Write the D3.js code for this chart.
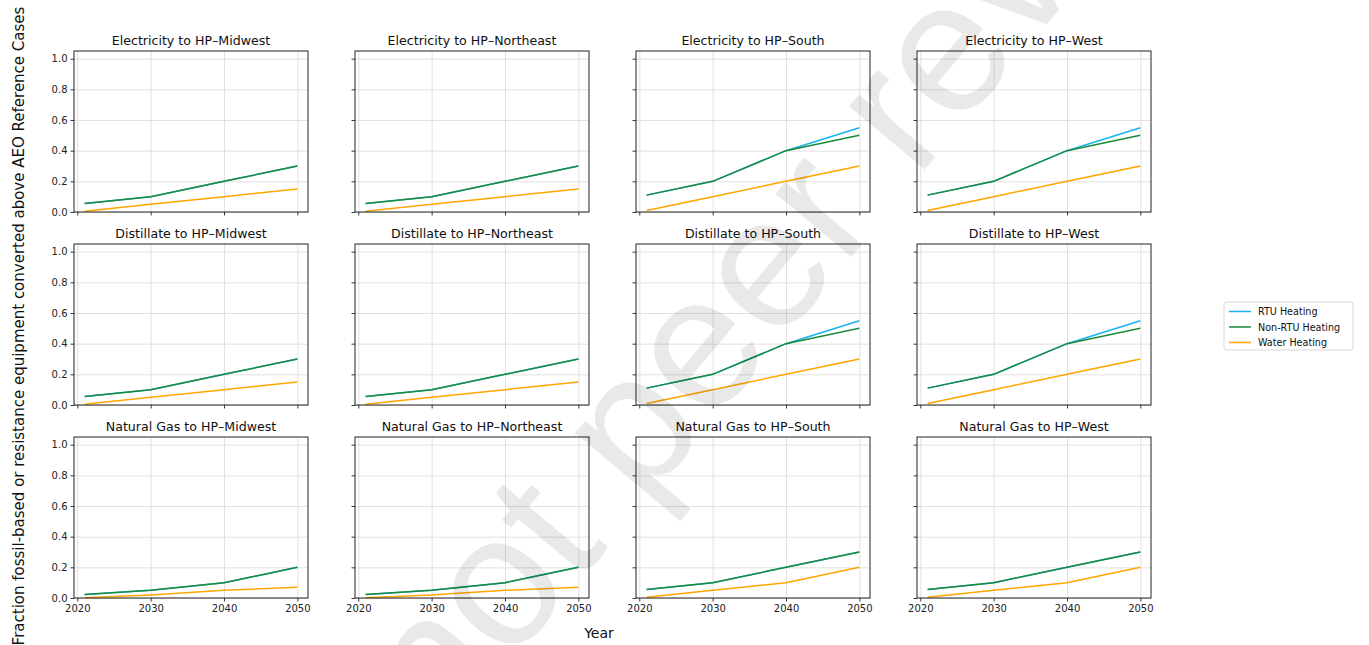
<!DOCTYPE html>
<html>
<head>
<meta charset="utf-8">
<script src="https://cdn.jsdelivr.net/npm/d3@7"></script>
<style>
  body { margin: 0; background: #fff; }
  svg { display: block; font-family: "DejaVu Sans", sans-serif; }
</style>
</head>
<body>
<div class="container"></div>
<script>
const WIDTH = 1369;
const HEIGHT = 645;

// data
const years = [2021, 2030, 2040, 2050];
const fuels = ['Electricity', 'Distillate', 'Natural Gas'];
const regions = ['Midwest', 'Northeast', 'South', 'West'];
const seriesNames = ['RTU Heating', 'Non-RTU Heating', 'Water Heating'];
const xTicks = [2020, 2030, 2040, 2050];
const yTicks = [0.0, 0.2, 0.4, 0.6, 0.8, 1.0];

// one row per region (Midwest, Northeast, South, West)
const electricityRTU = [[0.055, 0.1, 0.2, 0.3], [0.055, 0.1, 0.2, 0.3], [0.11, 0.2, 0.4, 0.55], [0.11, 0.2, 0.4, 0.55]];
const electricityNonRTU = [[0.055, 0.1, 0.2, 0.3], [0.055, 0.1, 0.2, 0.3], [0.11, 0.2, 0.4, 0.5], [0.11, 0.2, 0.4, 0.5]];
const electricityWater = [[0.005, 0.05, 0.1, 0.15], [0.005, 0.05, 0.1, 0.15], [0.01, 0.1, 0.2, 0.3], [0.01, 0.1, 0.2, 0.3]];

const distillateRTU = [[0.055, 0.1, 0.2, 0.3], [0.055, 0.1, 0.2, 0.3], [0.11, 0.2, 0.4, 0.55], [0.11, 0.2, 0.4, 0.55]];
const distillateNonRTU = [[0.055, 0.1, 0.2, 0.3], [0.055, 0.1, 0.2, 0.3], [0.11, 0.2, 0.4, 0.5], [0.11, 0.2, 0.4, 0.5]];
const distillateWater = [[0.005, 0.05, 0.1, 0.15], [0.005, 0.05, 0.1, 0.15], [0.01, 0.1, 0.2, 0.3], [0.01, 0.1, 0.2, 0.3]];

const gasRTU = [[0.023, 0.05, 0.1, 0.2], [0.023, 0.05, 0.1, 0.2], [0.055, 0.1, 0.2, 0.3], [0.055, 0.1, 0.2, 0.3]];
const gasNonRTU = [[0.023, 0.05, 0.1, 0.2], [0.023, 0.05, 0.1, 0.2], [0.055, 0.1, 0.2, 0.3], [0.055, 0.1, 0.2, 0.3]];
const gasWater = [[0.002, 0.02, 0.05, 0.07], [0.002, 0.02, 0.05, 0.07], [0.005, 0.05, 0.1, 0.2], [0.005, 0.05, 0.1, 0.2]];

const fuelSeries = [
  [electricityRTU, electricityNonRTU, electricityWater],
  [distillateRTU, distillateNonRTU, distillateWater],
  [gasRTU, gasNonRTU, gasWater]
];

const colors = ['#17b3ee', '#1d8a3b', '#ffa500'];

// layout
const colLeft = [74, 355, 636, 917];
const rowTop = [51, 244, 437];
const panelW = 234;
const panelH = 161;

const x = d3.scaleLinear().domain([2019.55, 2051.45]).range([0, panelW]);
const y = d3.scaleLinear().domain([0, 1.05]).range([panelH, 0]);

const line = d3.line()
  .x(function (d) { return x(d.year); })
  .y(function (d) { return y(d.value); });

const svg = d3.select('.container').append('svg')
  .attr('width', WIDTH)
  .attr('height', HEIGHT);

fuels.forEach(function (fuel, r) {
  regions.forEach(function (region, c) {
    const g = svg.append('g')
      .attr('transform', 'translate(' + colLeft[c] + ',' + rowTop[r] + ')');

    // grid
    g.append('g')
      .attr('class', 'grid')
      .attr('transform', 'translate(0,' + panelH + ')')
      .call(d3.axisBottom(x).tickValues(xTicks).tickSize(-panelH).tickFormat(''))
      .call(function (s) { s.select('.domain').remove(); });
    g.append('g')
      .attr('class', 'grid')
      .call(d3.axisLeft(y).tickValues(yTicks).tickSize(-panelW).tickFormat(''))
      .call(function (s) { s.select('.domain').remove(); });
    g.selectAll('.grid line').attr('stroke', '#dedede').attr('stroke-width', 0.9);

    // lines
    fuelSeries[r].forEach(function (series, k) {
      const pts = years.map(function (yr, i) { return { year: yr, value: series[c][i] }; });
      g.append('path')
        .datum(pts)
        .attr('d', line)
        .attr('fill', 'none')
        .attr('stroke', colors[k])
        .attr('stroke-width', 1.5);
    });

    // axes
    const xa = g.append('g')
      .attr('transform', 'translate(0,' + panelH + ')')
      .call(d3.axisBottom(x).tickValues(xTicks).tickSize(3.5).tickPadding(3)
        .tickFormat(r === fuels.length - 1 ? d3.format('d') : ''));
    const ya = g.append('g')
      .call(d3.axisLeft(y).tickValues(yTicks).tickSize(3.5).tickPadding(3)
        .tickFormat(c === 0 ? d3.format('.1f') : ''));
    [xa, ya].forEach(function (a) {
      a.select('.domain').remove();
      a.selectAll('line').attr('stroke', '#222').attr('stroke-width', 0.9);
      a.selectAll('text').attr('fill', '#222').style('font-size', '10px').style('font-family', '"DejaVu Sans"');
    });

    g.append('rect')
      .attr('width', panelW)
      .attr('height', panelH)
      .attr('fill', 'none')
      .attr('stroke', '#222')
      .attr('stroke-width', 1);

    g.append('text')
      .attr('x', panelW / 2)
      .attr('y', -6)
      .attr('text-anchor', 'middle')
      .style('font-size', '12.6px')
      .attr('fill', '#111')
      .text(fuel + ' to HP\u2013' + region);
  });
});

// axis titles
svg.append('text')
  .attr('transform', 'translate(24,326) rotate(-90)')
  .attr('text-anchor', 'middle')
  .style('font-size', '15px')
  .attr('fill', '#111')
  .text('Fraction fossil-based or resistance equipment converted above AEO Reference Cases');

svg.append('text')
  .attr('x', 599)
  .attr('y', 638)
  .attr('text-anchor', 'middle')
  .style('font-size', '14px')
  .attr('fill', '#111')
  .text('Year');

// legend
const legend = svg.append('g').attr('transform', 'translate(1224,302)');
legend.append('rect')
  .attr('width', 129)
  .attr('height', 48)
  .attr('rx', 2.5)
  .attr('fill', '#fff')
  .attr('stroke', '#d6d6d6')
  .attr('stroke-width', 1);
seriesNames.forEach(function (name, i) {
  const ly = 9.5 + i * 15.5;
  legend.append('line')
    .attr('x1', 5).attr('x2', 27)
    .attr('y1', ly).attr('y2', ly)
    .attr('stroke', colors[i])
    .attr('stroke-width', 1.5);
  legend.append('text')
    .attr('x', 34)
    .attr('y', ly + 3.5)
    .style('font-size', '9.6px')
    .attr('fill', '#111')
    .text(name);
});

// watermark
svg.append('text')
  .attr('transform', 'translate(442,745) rotate(-50)')
  .style('font-size', '187px')
  .style('font-family', '"Liberation Sans", sans-serif')
  .attr('fill', '#000')
  .attr('fill-opacity', 0.085)
  .style('pointer-events', 'none')
  .text('not peer reviewed');
</script>
</body>
</html>
